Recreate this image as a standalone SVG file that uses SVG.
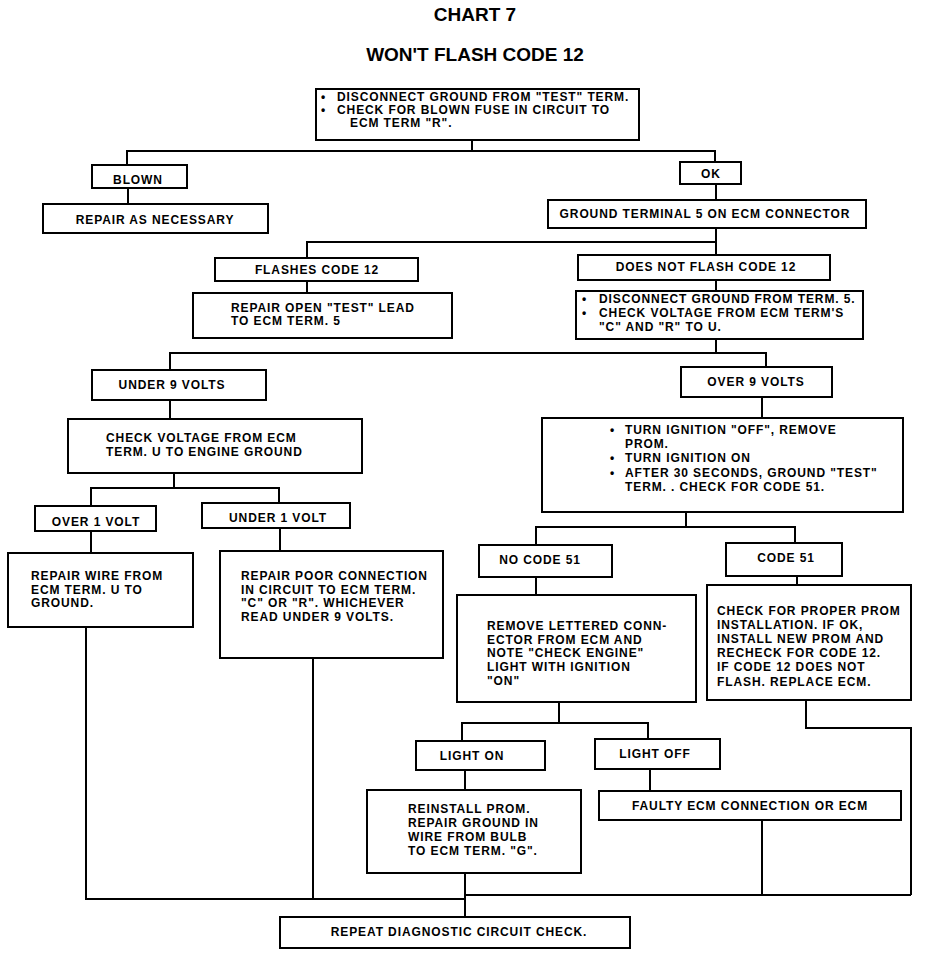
<svg xmlns="http://www.w3.org/2000/svg" width="928" height="956" viewBox="0 0 928 956">
<style>
.bx{fill:#fff;stroke:#000;stroke-width:2}
.t{font-family:"Liberation Sans",Arial,sans-serif;font-weight:bold;font-size:12px;letter-spacing:0.9px;fill:#000}
.c{text-anchor:middle}
.h{font-family:"Liberation Sans",Arial,sans-serif;font-weight:bold;font-size:19px;fill:#000;text-anchor:middle}
.ln{fill:none;stroke:#000;stroke-width:2}
</style>
<rect width="928" height="956" fill="#fff"/>
<text class="h" x="475" y="21">CHART 7</text>
<text class="h" x="475" y="61">WON'T FLASH CODE 12</text>
<g id="connectors" class="ln">
<path d="M472 140V151"/>
<path d="M127 165V151H715V162"/>
<path d="M128 188V204"/>
<path d="M716 184V200"/>
<path d="M716 228V255M307 258V242H716"/>
<path d="M307 281V293"/>
<path d="M716 280V291"/>
<path d="M716 339V353M170 370V353H766V367"/>
<path d="M170 400V419"/>
<path d="M762 397V418"/>
<path d="M174 473V488M91 506V488H279V503"/>
<path d="M91 531V553"/>
<path d="M280 528V551"/>
<path d="M686 512V527M536 545V527H795V543"/>
<path d="M536 577V595"/>
<path d="M797 576V585"/>
<path d="M559 702V723M462 741V723H648V739"/>
<path d="M465 770V790"/>
<path d="M650 769V791"/>
<path d="M86 627V899H465M313 658V899"/>
<path d="M465 873V917"/>
<path d="M762 820V895M465 895H911M806 700V728H911V895"/>
</g>
<g id="n1"><rect class="bx" x="316" y="89" width="323" height="51"/>
<text class="t" x="321" y="101">•</text><text class="t" x="337" y="101">DISCONNECT GROUND FROM "TEST" TERM.</text>
<text class="t" x="321" y="114">•</text><text class="t" x="337" y="114">CHECK FOR BLOWN FUSE IN CIRCUIT TO</text>
<text class="t" x="350" y="127">ECM TERM  "R".</text></g>
<g id="n2"><rect class="bx" x="92" y="165" width="95" height="23"/><text class="t c" x="138" y="184">BLOWN</text></g>
<g id="n3"><rect class="bx" x="43" y="204" width="225" height="29"/><text class="t c" x="155" y="224">REPAIR AS NECESSARY</text></g>
<g id="n4"><rect class="bx" x="680" y="162" width="61" height="22"/><text class="t c" x="711" y="178">OK</text></g>
<g id="n5"><rect class="bx" x="548" y="200" width="318" height="28"/><text class="t c" x="705" y="218">GROUND TERMINAL 5 ON ECM CONNECTOR</text></g>
<g id="n6"><rect class="bx" x="215" y="258" width="203" height="23"/><text class="t c" x="317" y="274">FLASHES CODE 12</text></g>
<g id="n7"><rect class="bx" x="193" y="293" width="259" height="45"/>
<text class="t" x="231" y="312">REPAIR OPEN "TEST" LEAD</text>
<text class="t" x="231" y="325">TO ECM TERM. 5</text></g>
<g id="n8"><rect class="bx" x="578" y="255" width="252" height="25"/><text class="t c" x="706" y="271">DOES NOT FLASH CODE 12</text></g>
<g id="n9"><rect class="bx" x="576" y="291" width="287" height="48"/>
<text class="t" x="582" y="303">•</text><text class="t" x="599" y="303">DISCONNECT GROUND FROM TERM. 5.</text>
<text class="t" x="582" y="317">•</text><text class="t" x="599" y="317">CHECK VOLTAGE FROM ECM TERM'S</text>
<text class="t" x="599" y="331">"C" AND "R" TO U.</text></g>
<g id="n10"><rect class="bx" x="92" y="370" width="174" height="30"/><text class="t c" x="172" y="389">UNDER 9 VOLTS</text></g>
<g id="n11"><rect class="bx" x="68" y="419" width="294" height="54"/>
<text class="t" x="106" y="442">CHECK VOLTAGE FROM ECM</text>
<text class="t" x="106" y="456">TERM. U TO ENGINE GROUND</text></g>
<g id="n12"><rect class="bx" x="681" y="367" width="151" height="30"/><text class="t c" x="756" y="386">OVER 9 VOLTS</text></g>
<g id="n13"><rect class="bx" x="542" y="418" width="361" height="94"/>
<text class="t" x="610" y="434">•</text><text class="t" x="625" y="434">TURN IGNITION "OFF", REMOVE</text>
<text class="t" x="625" y="448">PROM.</text>
<text class="t" x="610" y="462">•</text><text class="t" x="625" y="462">TURN IGNITION ON</text>
<text class="t" x="610" y="477">•</text><text class="t" x="625" y="477">AFTER 30 SECONDS, GROUND "TEST"</text>
<text class="t" x="625" y="491">TERM. . CHECK FOR CODE 51.</text></g>
<g id="n14"><rect class="bx" x="35" y="506" width="121" height="25"/><text class="t c" x="96" y="526">OVER 1 VOLT</text></g>
<g id="n15"><rect class="bx" x="8" y="553" width="185" height="74"/>
<text class="t" x="31" y="580">REPAIR WIRE FROM</text>
<text class="t" x="31" y="594">ECM TERM. U TO</text>
<text class="t" x="31" y="607">GROUND.</text></g>
<g id="n16"><rect class="bx" x="202" y="503" width="148" height="25"/><text class="t c" x="278" y="522">UNDER 1 VOLT</text></g>
<g id="n17"><rect class="bx" x="220" y="551" width="223" height="107"/>
<text class="t" x="241" y="580">REPAIR POOR CONNECTION</text>
<text class="t" x="241" y="594">IN CIRCUIT TO ECM TERM.</text>
<text class="t" x="241" y="607">"C" OR "R". WHICHEVER</text>
<text class="t" x="241" y="621">READ UNDER 9 VOLTS.</text></g>
<g id="n18"><rect class="bx" x="479" y="545" width="133" height="32"/><text class="t c" x="540" y="564">NO CODE 51</text></g>
<g id="n19"><rect class="bx" x="726" y="543" width="116" height="33"/><text class="t c" x="786" y="562">CODE 51</text></g>
<g id="n20"><rect class="bx" x="457" y="595" width="239" height="107"/>
<text class="t" x="487" y="630">REMOVE LETTERED CONN-</text>
<text class="t" x="487" y="644">ECTOR FROM ECM AND</text>
<text class="t" x="487" y="657">NOTE "CHECK ENGINE"</text>
<text class="t" x="487" y="671">LIGHT WITH IGNITION</text>
<text class="t" x="487" y="685">"ON"</text></g>
<g id="n21"><rect class="bx" x="707" y="585" width="204" height="115"/>
<text class="t" x="717" y="615">CHECK FOR PROPER PROM</text>
<text class="t" x="717" y="629">INSTALLATION. IF OK,</text>
<text class="t" x="717" y="643">INSTALL NEW PROM AND</text>
<text class="t" x="717" y="657">RECHECK FOR CODE 12.</text>
<text class="t" x="717" y="671">IF CODE 12 DOES NOT</text>
<text class="t" x="717" y="686">FLASH. REPLACE ECM.</text></g>
<g id="n22"><rect class="bx" x="416" y="741" width="129" height="29"/><text class="t c" x="472" y="760">LIGHT ON</text></g>
<g id="n23"><rect class="bx" x="595" y="739" width="125" height="30"/><text class="t c" x="655" y="758">LIGHT OFF</text></g>
<g id="n24"><rect class="bx" x="367" y="790" width="214" height="83"/>
<text class="t" x="408" y="813">REINSTALL PROM.</text>
<text class="t" x="408" y="827">REPAIR GROUND IN</text>
<text class="t" x="408" y="841">WIRE FROM BULB</text>
<text class="t" x="408" y="855">TO ECM TERM. "G".</text></g>
<g id="n25"><rect class="bx" x="599" y="791" width="302" height="29"/><text class="t c" x="750" y="810">FAULTY ECM CONNECTION OR ECM</text></g>
<g id="n26"><rect class="bx" x="280" y="917" width="350" height="31"/><text class="t c" x="459" y="936">REPEAT DIAGNOSTIC CIRCUIT CHECK.</text></g>
</svg>
